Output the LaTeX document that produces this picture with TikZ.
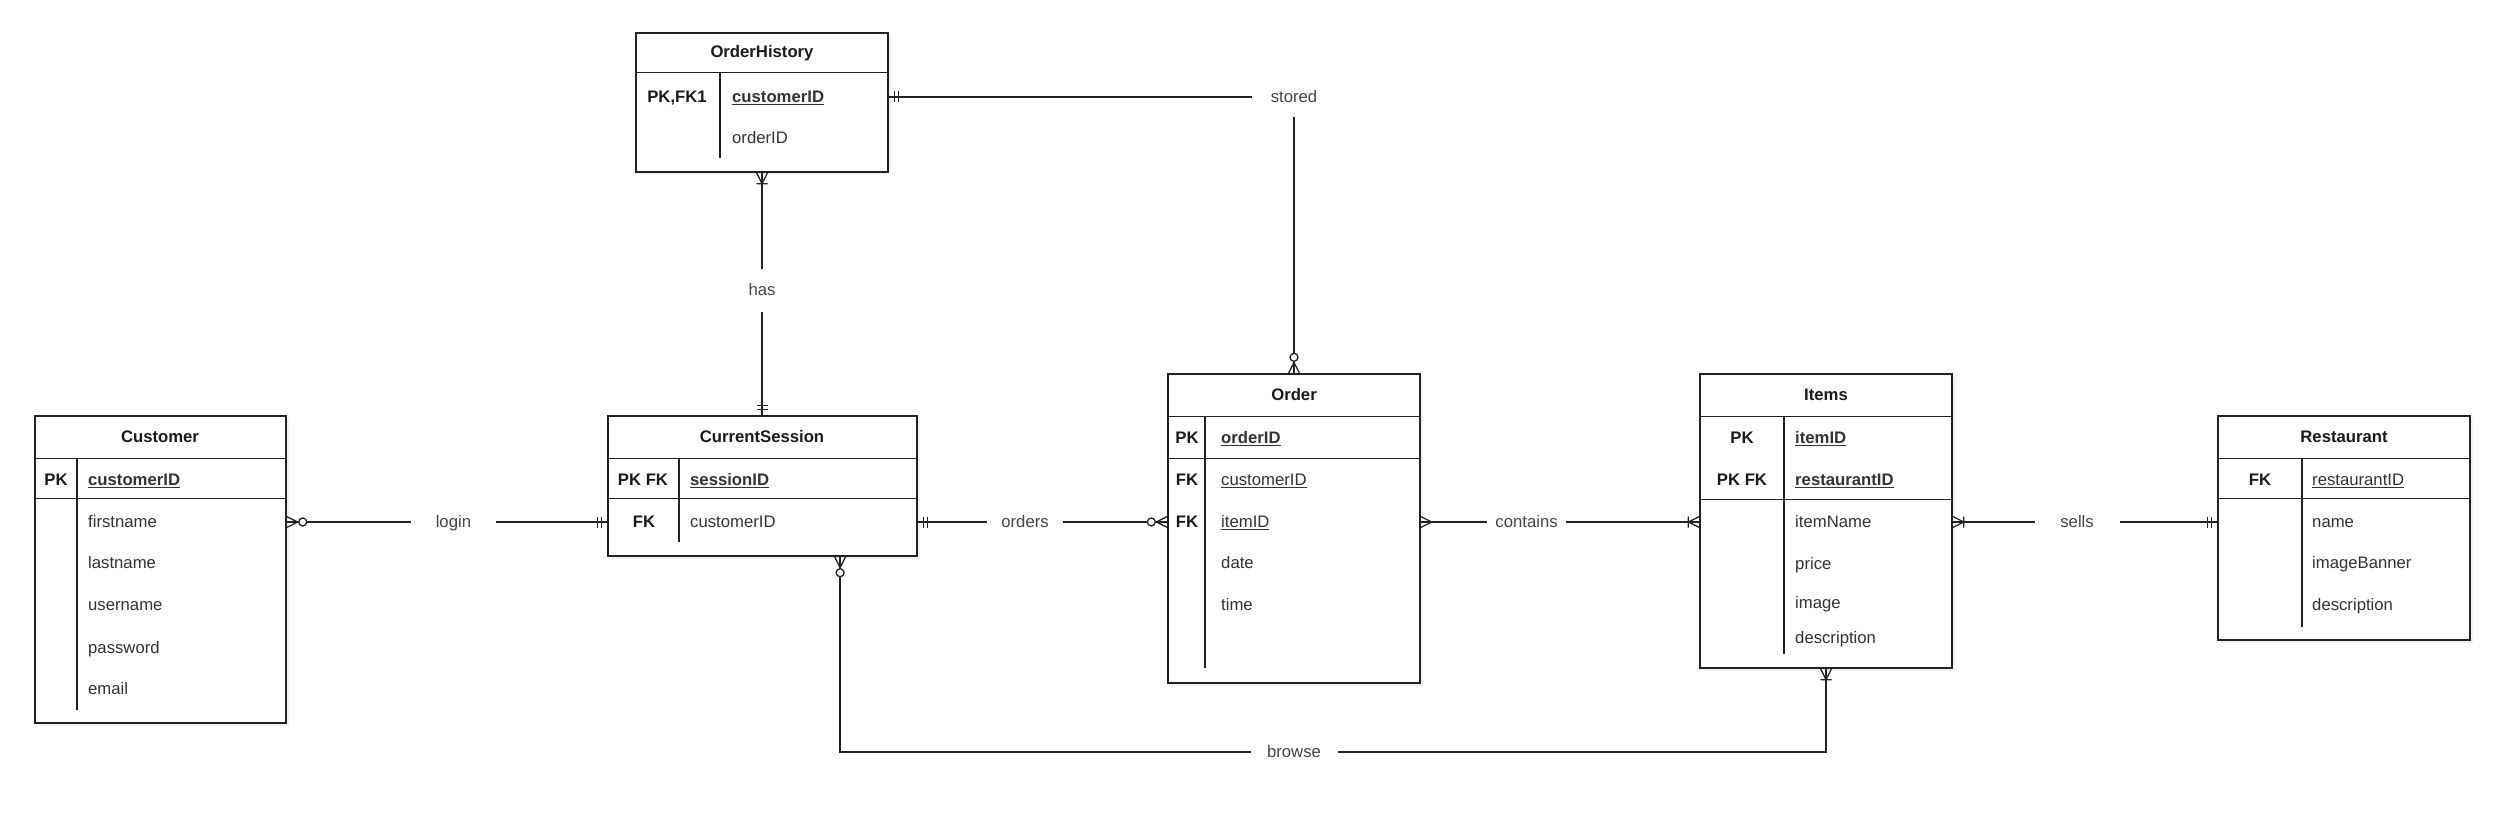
\documentclass[tikz,border=0pt]{standalone}
\usepackage{fontspec}
\setmainfont{Liberation Sans}
\usetikzlibrary{fit,calc,decorations.markings,shadows}
\definecolor{txt}{HTML}{333333}
\definecolor{hdr}{HTML}{1A1A1A}
\definecolor{lbl}{HTML}{444444}
\definecolor{ln}{HTML}{222222}
\newcommand\erZM{\draw[line width=1.3pt,draw=ln] (0pt,5.5pt) -- (11pt,0pt) -- (0pt,-5.5pt); \draw[line width=1.3pt,draw=ln,fill=white] (16pt,0pt) circle (4pt);}
\newcommand\erOM{\draw[line width=1.3pt,draw=ln] (0pt,5.5pt) -- (11pt,0pt) -- (0pt,-5.5pt) (11pt,5.5pt) -- (11pt,-5.5pt);}
\newcommand\erOO{\draw[line width=1.3pt,draw=ln] (6pt,5.5pt) -- (6pt,-5.5pt) (10pt,5.5pt) -- (10pt,-5.5pt);}
\newcommand\erMN{\draw[line width=1.3pt,draw=ln] (0pt,5.5pt) -- (11pt,0pt) -- (0pt,-5.5pt);}
\tikzset{
  startmark/.style={postaction={decorate,decoration={markings,mark=at position 0 with {#1}}}},
  endmark/.style={postaction={decorate,decoration={markings,mark=at position 1 with {\begin{scope}[xscale=-1]#1\end{scope}}}}},
  entity/.style={draw=ln, line width=1.4pt, fill=white, inner sep=0pt,
    drop shadow={shadow xshift=2.5pt, shadow yshift=-2.5pt, opacity=0.12}},
  sep/.style={line width=1.4pt, draw=ln},
  divider/.style={line width=1.3pt, draw=ln},
  title/.style={font=\fontsize{16.7}{20}\selectfont\bfseries, text=hdr, inner sep=0pt},
  key/.style={font=\fontsize{16.7}{20}\selectfont\bfseries, text=hdr, inner sep=0pt, text height=12pt, text depth=1pt},
  fld/.style={font=\fontsize{16.7}{20}\selectfont, text=txt, anchor=west, inner sep=0pt, text height=12pt, text depth=1pt},
  rel/.style={font=\fontsize{16.7}{20}\selectfont, text=lbl, fill=white, inner sep=0pt, text height=12pt, text depth=1pt},
  conn/.style={line width=1.3pt, draw=ln},
}
\begin{document}
\begin{tikzpicture}[x=1pt,y=-1pt]
\useasboundingbox (0,0) rectangle (2503,813);

% ---------- OrderHistory ----------
\node[entity, fit={(636,33) (888,172)}] (hist) {};
\draw[sep] ([yshift=-40pt]hist.north west) -- ([yshift=-40pt]hist.north east);
\draw[divider] (720,73) -- (720,158);
\node[title] (hist-t) at (762,53) {OrderHistory};
\node[key] (hist-k1) at (677,97) {PK,FK1};
\node[fld] (hist-cid) at (732,97) {\bfseries\underline{customerID}};
\node[fld] (hist-oid) at (732,138) {orderID};

% ---------- Customer ----------
\node[entity, fit={(35,416) (286,723)}] (cust) {};
\draw[sep] ([yshift=-43pt]cust.north west) -- ([yshift=-43pt]cust.north east);
\draw[sep] ([yshift=-83pt]cust.north west) -- ([yshift=-83pt]cust.north east);
\draw[divider] (77,459) -- (77,710);
\node[title] (cust-t) at (160,437) {Customer};
\node[key] (cust-k1) at (56,480) {PK};
\node[fld] (cust-id) at (88,480) {\bfseries\underline{customerID}};
\node[fld] (cust-fn) at (88,522) {firstname};
\node[fld] (cust-ln) at (88,563) {lastname};
\node[fld] (cust-un) at (88,605) {username};
\node[fld] (cust-pw) at (88,648) {password};
\node[fld] (cust-em) at (88,689) {email};

% ---------- CurrentSession ----------
\node[entity, fit={(608,416) (917,556)}] (sess) {};
\draw[sep] ([yshift=-43pt]sess.north west) -- ([yshift=-43pt]sess.north east);
\draw[sep] ([yshift=-83pt]sess.north west) -- ([yshift=-83pt]sess.north east);
\draw[divider] (679,459) -- (679,542);
\node[title] (sess-t) at (762,437) {CurrentSession};
\node[key] (sess-k1) at (643,480) {PK FK};
\node[key] (sess-k2) at (644,522) {FK};
\node[fld] (sess-sid) at (690,480) {\bfseries\underline{sessionID}};
\node[fld] (sess-cid) at (690,522) {customerID};

% ---------- Order ----------
\node[entity, fit={(1168,374) (1420,683)}] (order) {};
\draw[sep] ([yshift=-43pt]order.north west) -- ([yshift=-43pt]order.north east);
\draw[sep] ([yshift=-85pt]order.north west) -- ([yshift=-85pt]order.north east);
\draw[divider] (1205,417) -- (1205,668);
\node[title] (order-t) at (1294,395) {Order};
\node[key] (order-k1) at (1187,438) {PK};
\node[key] (order-k2) at (1187,480) {FK};
\node[key] (order-k3) at (1187,522) {FK};
\node[fld] (order-oid) at (1221,438) {\bfseries\underline{orderID}};
\node[fld] (order-cid) at (1221,480) {\underline{customerID}};
\node[fld] (order-iid) at (1221,522) {\underline{itemID}};
\node[fld] (order-dt) at (1221,563) {date};
\node[fld] (order-tm) at (1221,605) {time};

% ---------- Items ----------
\node[entity, fit={(1700,374) (1952,668)}] (items) {};
\draw[sep] ([yshift=-43pt]items.north west) -- ([yshift=-43pt]items.north east);
\draw[sep] ([yshift=-126pt]items.north west) -- ([yshift=-126pt]items.north east);
\draw[divider] (1784,417) -- (1784,654);
\node[title] (items-t) at (1826,395) {Items};
\node[key] (items-k1) at (1742,438) {PK};
\node[key] (items-k2) at (1742,480) {PK FK};
\node[fld] (items-iid) at (1795,438) {\bfseries\underline{itemID}};
\node[fld] (items-rid) at (1795,480) {\bfseries\underline{restaurantID}};
\node[fld] (items-name) at (1795,522) {itemName};
\node[fld] (items-pr) at (1795,564) {price};
\node[fld] (items-im) at (1795,603) {image};
\node[fld] (items-ds) at (1795,638) {description};

% ---------- Restaurant ----------
\node[entity, fit={(2218,416) (2470,640)}] (rest) {};
\draw[sep] ([yshift=-43pt]rest.north west) -- ([yshift=-43pt]rest.north east);
\draw[sep] ([yshift=-83pt]rest.north west) -- ([yshift=-83pt]rest.north east);
\draw[divider] (2302,459) -- (2302,627);
\node[title] (rest-t) at (2344,437) {Restaurant};
\node[key] (rest-k1) at (2260,480) {FK};
\node[fld] (rest-rid) at (2312,480) {\underline{restaurantID}};
\node[fld] (rest-name) at (2312,522) {name};
\node[fld] (rest-ib) at (2312,563) {imageBanner};
\node[fld] (rest-ds) at (2312,605) {description};

% ---------- Relationships ----------
\draw[conn, startmark=\erZM, endmark=\erOO] (cust.east |- cust-fn) -- (sess.west |- sess-cid)
  node[rel, pos=0.52, minimum width=85pt] (l-login) {login};
\draw[conn, startmark=\erOO, endmark=\erZM] (sess.east |- sess-cid) -- (order.west |- order-iid)
  node[rel, pos=0.43, minimum width=76pt] (l-orders) {orders};
\draw[conn, startmark=\erMN, endmark=\erOM] (order.east |- order-iid) -- (items.west |- items-name)
  node[rel, pos=0.38, minimum width=79pt] (l-contains) {contains};
\draw[conn, startmark=\erOM, endmark=\erOO] (items.east |- items-name) -- (rest.west |- rest-name)
  node[rel, pos=0.47, minimum width=85pt] (l-sells) {sells};
\draw[conn, startmark=\erOM, endmark=\erOO] (hist.south) -- (hist.south |- sess.north)
  node[rel, pos=0.485, minimum height=43pt] (l-has) {has};
\draw[conn, startmark=\erOO, endmark=\erZM] (hist.east |- hist-cid) -| (order.north)
  node[rel, pos=0.5, minimum width=84pt, minimum height=40pt] (l-stored) {stored};
\coordinate (bs) at ($(sess.south west)!0.75!(sess.south east)$);
\coordinate (browsec) at (1294,752);
\draw[conn, startmark=\erZM, endmark=\erOM] (bs) |- (browsec)
  node[rel, minimum width=87pt] (l-browse) {browse} -| (items.south);
\end{tikzpicture}
\end{document}
